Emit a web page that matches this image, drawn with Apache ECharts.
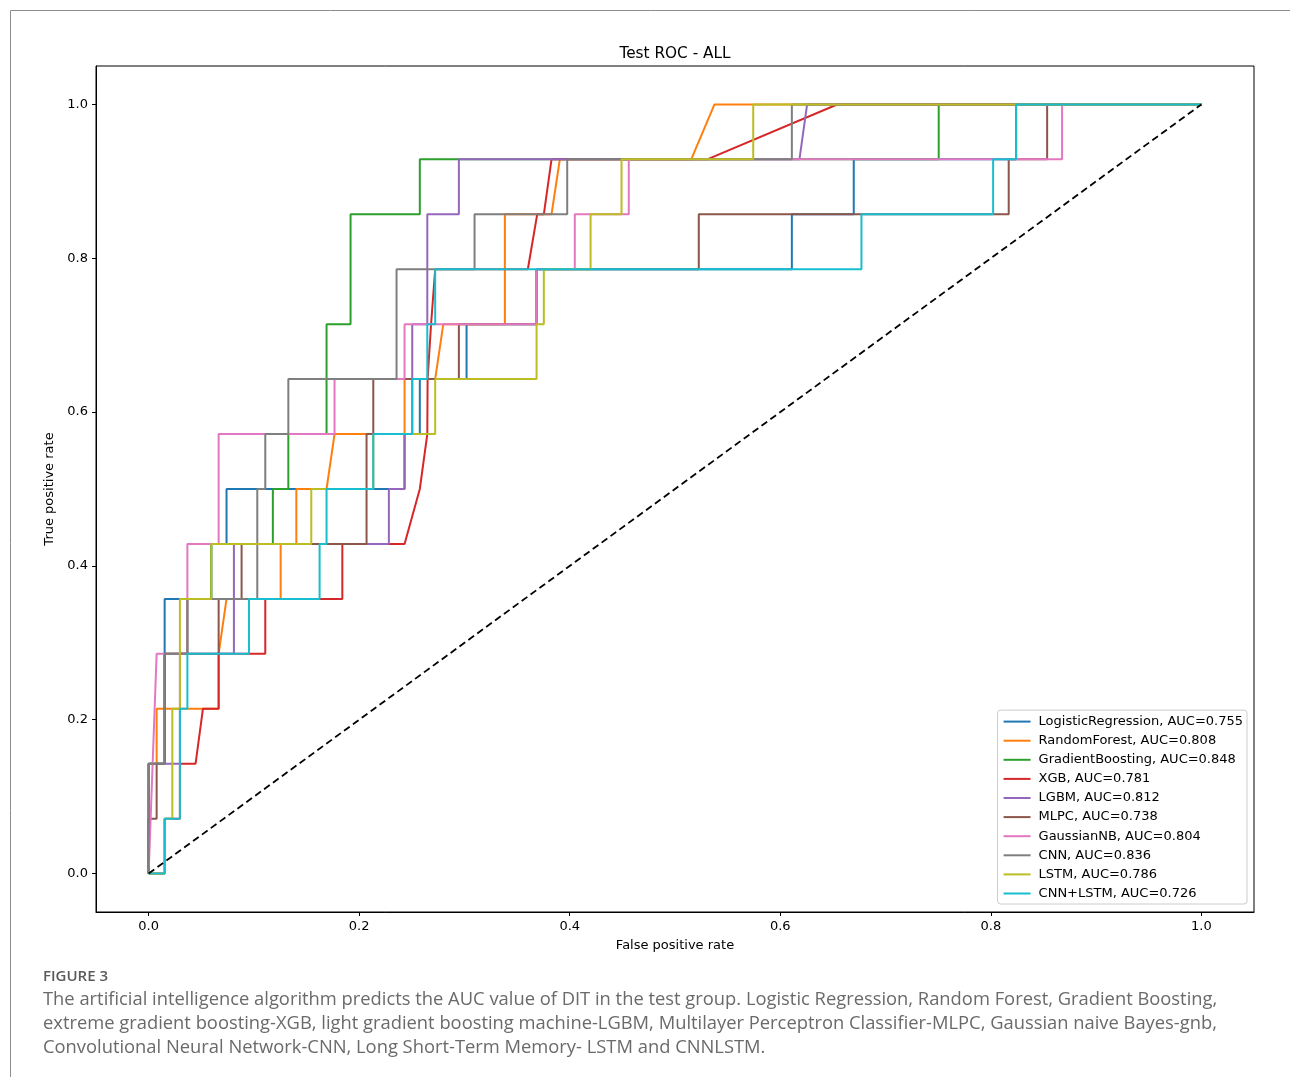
<!DOCTYPE html>
<html>
<head>
<meta charset="utf-8">
<script src="https://cdn.jsdelivr.net/npm/echarts@6/dist/echarts.min.js"></script>
<style>
html,body{margin:0;padding:0;background:#fff;}
#chart{width:1290px;height:1077px;}
</style>
</head>
<body>
<div id="chart"></div>
<script>
// ---------------- data ----------------
const modelNames = [
  'LogisticRegression, AUC=0.755',
  'RandomForest, AUC=0.808',
  'GradientBoosting, AUC=0.848',
  'XGB, AUC=0.781',
  'LGBM, AUC=0.812',
  'MLPC, AUC=0.738',
  'GaussianNB, AUC=0.804',
  'CNN, AUC=0.836',
  'LSTM, AUC=0.786',
  'CNN+LSTM, AUC=0.726'
];
const modelColors = ['#1f77b4','#ff7f0e','#2ca02c','#d62728','#9467bd','#8c564b','#e377c2','#7f7f7f','#bcbd22','#17becf'];

const lrFpr = [0, 0, 0.0152, 0.0152, 0.0595, 0.0595, 0.074, 0.074, 0.2431, 0.2431, 0.2576, 0.2576, 0.302, 0.302, 0.3685, 0.3685, 0.611, 0.611, 0.6698, 0.6698, 0.824, 0.824, 1];
const lrTpr = [0, 0.1429, 0.1429, 0.3571, 0.3571, 0.4286, 0.4286, 0.5, 0.5, 0.5714, 0.5714, 0.6429, 0.6429, 0.7143, 0.7143, 0.7857, 0.7857, 0.8571, 0.8571, 0.9286, 0.9286, 1, 1];

const rfFpr = [0, 0, 0.0076, 0.0076, 0.0665, 0.0665, 0.074, 0.1254, 0.1254, 0.1403, 0.1403, 0.169, 0.1766, 0.2431, 0.2431, 0.2722, 0.2799, 0.3384, 0.3384, 0.3827, 0.3906, 0.5154, 0.5375, 1];
const rfTpr = [0, 0.1429, 0.1429, 0.2143, 0.2143, 0.2857, 0.3571, 0.3571, 0.4286, 0.4286, 0.5, 0.5, 0.5714, 0.5714, 0.6429, 0.6429, 0.7143, 0.7143, 0.8571, 0.8571, 0.9286, 0.9286, 1, 1];

const gbFpr = [0, 0, 0.0152, 0.0152, 0.0368, 0.0368, 0.0595, 0.0595, 0.118, 0.118, 0.1327, 0.1327, 0.169, 0.169, 0.1918, 0.1918, 0.2576, 0.2576, 0.7505, 0.7505, 1];
const gbTpr = [0, 0.1429, 0.1429, 0.2857, 0.2857, 0.3571, 0.3571, 0.4286, 0.4286, 0.5, 0.5, 0.5714, 0.5714, 0.7143, 0.7143, 0.8571, 0.8571, 0.9286, 0.9286, 1, 1];

const xgbFpr = [0, 0.0152, 0.0152, 0.0297, 0.0297, 0.0446, 0.0516, 0.0665, 0.0665, 0.1108, 0.1108, 0.184, 0.184, 0.2431, 0.2576, 0.2647, 0.265, 0.2683, 0.2722, 0.3602, 0.3691, 0.3754, 0.3827, 0.5306, 0.654, 1];
const xgbTpr = [0, 0, 0.0714, 0.0714, 0.1429, 0.1429, 0.2143, 0.2143, 0.2857, 0.2857, 0.3571, 0.3571, 0.4286, 0.4286, 0.5, 0.5714, 0.6429, 0.7143, 0.7857, 0.7857, 0.8571, 0.8571, 0.9286, 0.9286, 1, 1];

const lgbmFpr = [0, 0, 0.0297, 0.0297, 0.081, 0.081, 0.2282, 0.2282, 0.2431, 0.2431, 0.2504, 0.2504, 0.2647, 0.2647, 0.2947, 0.2947, 0.6182, 0.6255, 1];
const lgbmTpr = [0, 0.1429, 0.1429, 0.2857, 0.2857, 0.4286, 0.4286, 0.5, 0.5, 0.5714, 0.5714, 0.7143, 0.7143, 0.8571, 0.8571, 0.9286, 0.9286, 1, 1];

const mlpcFpr = [0, 0, 0.0076, 0.0076, 0.0152, 0.0152, 0.0665, 0.0665, 0.0883, 0.0883, 0.207, 0.207, 0.2134, 0.2134, 0.2947, 0.2947, 0.3685, 0.3685, 0.5226, 0.5226, 0.817, 0.817, 0.8535, 0.8535, 1];
const mlpcTpr = [0, 0.0714, 0.0714, 0.1429, 0.1429, 0.2857, 0.2857, 0.3571, 0.3571, 0.4286, 0.4286, 0.5714, 0.5714, 0.6429, 0.6429, 0.7143, 0.7143, 0.7857, 0.7857, 0.8571, 0.8571, 0.9286, 0.9286, 1, 1];

const gnbFpr = [0, 0.0076, 0.0368, 0.0368, 0.0665, 0.0665, 0.1766, 0.1766, 0.2431, 0.2431, 0.3685, 0.3685, 0.4048, 0.4048, 0.4561, 0.4561, 0.8677, 0.8677, 1];
const gnbTpr = [0, 0.2857, 0.2857, 0.4286, 0.4286, 0.5714, 0.5714, 0.6429, 0.6429, 0.7143, 0.7143, 0.7857, 0.7857, 0.8571, 0.8571, 0.9286, 0.9286, 1, 1];

const cnnFpr = [0, 0, 0.0152, 0.0152, 0.0368, 0.0368, 0.1032, 0.1032, 0.1108, 0.1108, 0.1327, 0.1327, 0.2355, 0.2355, 0.3096, 0.3096, 0.3976, 0.3976, 0.611, 0.611, 1];
const cnnTpr = [0, 0.1429, 0.1429, 0.2857, 0.2857, 0.3571, 0.3571, 0.5, 0.5, 0.5714, 0.5714, 0.6429, 0.6429, 0.7857, 0.7857, 0.8571, 0.8571, 0.9286, 0.9286, 1, 1];

const lstmFpr = [0, 0.0152, 0.0152, 0.0225, 0.0225, 0.0297, 0.0297, 0.0595, 0.0595, 0.1545, 0.1545, 0.2134, 0.2134, 0.2722, 0.2722, 0.3685, 0.3685, 0.3754, 0.3754, 0.4198, 0.4198, 0.4492, 0.4492, 0.5743, 0.5743, 1];
const lstmTpr = [0, 0, 0.0714, 0.0714, 0.2143, 0.2143, 0.3571, 0.3571, 0.4286, 0.4286, 0.5, 0.5, 0.5714, 0.5714, 0.6429, 0.6429, 0.7143, 0.7143, 0.7857, 0.7857, 0.8571, 0.8571, 0.9286, 0.9286, 1, 1];

const cnnLstmFpr = [0, 0.0152, 0.0152, 0.0297, 0.0297, 0.0368, 0.0368, 0.0953, 0.0953, 0.1624, 0.1624, 0.169, 0.169, 0.2134, 0.2134, 0.2504, 0.2504, 0.2647, 0.2647, 0.2722, 0.2722, 0.6771, 0.6771, 0.8022, 0.8022, 0.824, 0.824, 1];
const cnnLstmTpr = [0, 0, 0.0714, 0.0714, 0.2143, 0.2143, 0.2857, 0.2857, 0.3571, 0.3571, 0.4286, 0.4286, 0.5, 0.5, 0.5714, 0.5714, 0.6429, 0.6429, 0.7143, 0.7143, 0.7857, 0.7857, 0.8571, 0.8571, 0.9286, 0.9286, 1, 1];

const chanceFpr = [0, 1];
const chanceTpr = [0, 1];

const xTicks = [0, 0.2, 0.4, 0.6, 0.8, 1.0];
const yTicks = [0, 0.2, 0.4, 0.6, 0.8, 1.0];

const titleText = 'Test ROC - ALL';
const xName = 'False positive rate';
const yName = 'True positive rate';
const figLabel = 'FIGURE 3';
const captionLines = [
  'The artificial intelligence algorithm predicts the AUC value of DIT in the test group. Logistic Regression, Random Forest, Gradient Boosting,',
  'extreme gradient boosting-XGB, light gradient boosting machine-LGBM, Multilayer Perceptron Classifier-MLPC, Gaussian naive Bayes-gnb,',
  'Convolutional Neural Network-CNN, Long Short-Term Memory- LSTM and CNNLSTM.'
];

// ---------------- build ----------------
const curves = [
  [lrFpr, lrTpr], [rfFpr, rfTpr], [gbFpr, gbTpr], [xgbFpr, xgbTpr], [lgbmFpr, lgbmTpr],
  [mlpcFpr, mlpcTpr], [gnbFpr, gnbTpr], [cnnFpr, cnnTpr], [lstmFpr, lstmTpr], [cnnLstmFpr, cnnLstmTpr]
];
const zip = (a, b) => a.map((v, i) => [v, b[i]]);
const FONT = 'DejaVu Sans';

const series = curves.map((c, i) => ({
  name: modelNames[i],
  type: 'line',
  data: zip(c[0], c[1]),
  symbol: 'none',
  showSymbol: false,
  lineStyle: { color: modelColors[i], width: 2 },
  itemStyle: { color: modelColors[i] },
  z: 2 + i,
  animation: false,
  silent: true
}));
series.push({
  name: 'chance',
  type: 'line',
  data: zip(chanceFpr, chanceTpr),
  symbol: 'none',
  lineStyle: { color: '#000', width: 1.8, type: [7, 4] },
  z: 20,
  animation: false,
  silent: true
});

const chart = echarts.init(document.getElementById('chart'), null, { renderer: 'canvas' });
const tickFmt = v => Number(v).toFixed(1);

const graphics = [
  { type: 'line', shape: { x1: 10.5, y1: 10.5, x2: 1290, y2: 10.5 }, style: { stroke: '#8c8c8c', lineWidth: 1 } },
  { type: 'line', shape: { x1: 10.5, y1: 10.5, x2: 10.5, y2: 1077 }, style: { stroke: '#8c8c8c', lineWidth: 1 } },
  { type: 'text', style: { x: 675, y: 54, text: titleText, textAlign: 'center', textVerticalAlign: 'middle', fontSize: 15.3, fontFamily: FONT, fill: '#000' } },
  { type: 'text', left: 43, top: 969, style: { text: figLabel, fontSize: 15, fontWeight: 600, fontFamily: 'Open Sans', fill: '#5a5a5a' } }
];
captionLines.forEach((t, i) => {
  graphics.push({ type: 'text', left: 43, top: 991 + i * 24, style: { text: t, fontSize: 18.35, fontFamily: 'Open Sans', fill: '#6a6a6a' } });
});

chart.setOption({
  animation: false,
  backgroundColor: '#fff',
  grid: { left: 96, top: 66, width: 1158, height: 846, show: true, borderColor: '#000', borderWidth: 1, backgroundColor: 'transparent' },
  xAxis: {
    type: 'value', min: -0.05, max: 1.05,
    name: xName, nameLocation: 'middle', nameGap: 27,
    nameTextStyle: { fontFamily: FONT, fontSize: 13, color: '#000' },
    axisLine: { show: true, onZero: false, lineStyle: { color: '#000', width: 1 } },
    axisTick: { show: true, length: 4, customValues: xTicks, lineStyle: { color: '#000' } },
    axisLabel: { customValues: xTicks, formatter: tickFmt, margin: 8, fontFamily: FONT, fontSize: 13, color: '#000' },
    splitLine: { show: false }
  },
  yAxis: {
    type: 'value', min: -0.05, max: 1.05,
    name: yName, nameLocation: 'middle', nameGap: 34,
    nameTextStyle: { fontFamily: FONT, fontSize: 13, color: '#000' },
    axisLine: { show: true, onZero: false, lineStyle: { color: '#000', width: 1 } },
    axisTick: { show: true, length: 4, customValues: yTicks, lineStyle: { color: '#000' } },
    axisLabel: { customValues: yTicks, formatter: tickFmt, margin: 8, fontFamily: FONT, fontSize: 13, color: '#000' },
    splitLine: { show: false }
  },
  legend: {
    data: modelNames,
    orient: 'vertical',
    right: 43, bottom: 173,
    padding: [4, 4, 3, 6],
    itemGap: 4.1,
    itemWidth: 27, itemHeight: 2,
    icon: 'rect',
    backgroundColor: '#fff',
    borderColor: '#cccccc', borderWidth: 1, borderRadius: 3,
    textStyle: { fontFamily: FONT, fontSize: 13, color: '#000', lineHeight: 15, padding: [0, 0, 0, 3] },
    selectedMode: false
  },
  graphic: graphics,
  series: series
});
</script>
</body>
</html>
